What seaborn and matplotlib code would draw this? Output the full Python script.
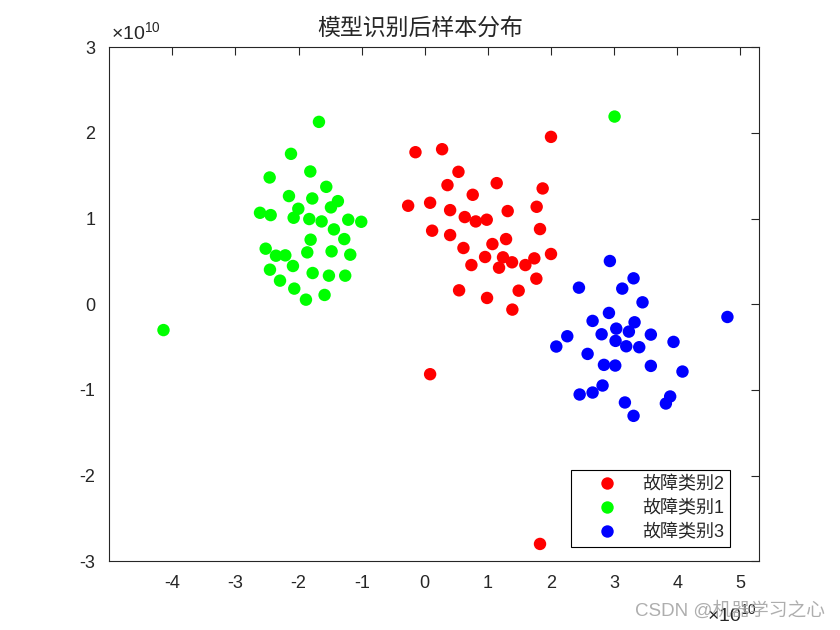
import matplotlib
matplotlib.use("Agg")
import matplotlib.pyplot as plt
import seaborn as sns
import pandas as pd

# ---- data (units of 1e10) ----
red_x = [1.999, -0.148, 0.274, 0.533, 0.359, 1.139, 0.759, 1.867, -0.264, 0.084,
         0.401, 1.772, 1.313, 0.633, 0.807, 0.981, 0.116, 0.401, 1.825, 0.612,
         1.071, 1.287, 0.955, 1.239, 1.382, 1.593, 1.735, 1.999, 0.738, 1.176,
         1.767, 0.543, 0.986, 1.487, 1.387, 0.084, 1.825]
red_y = [1.954, 1.775, 1.810, 1.546, 1.391, 1.414, 1.278, 1.352, 1.150, 1.185,
         1.099, 1.138, 1.088, 1.018, 0.967, 0.987, 0.859, 0.808, 0.878, 0.657,
         0.703, 0.761, 0.552, 0.548, 0.490, 0.458, 0.536, 0.587, 0.458, 0.427,
         0.299, 0.163, 0.074, 0.159, -0.062, -0.816, -2.797]

green_x = [-1.677, -2.120, -1.814, -2.458, -1.561, -2.152, -1.783, -1.377, -2.004, -1.487,
           -2.611, -2.442, -2.078, -1.830, -1.635, -1.213, -1.007, -1.440, -1.809, -1.276,
           -2.521, -2.358, -2.210, -1.862, -1.477, -1.181, -2.453, -2.089, -1.777, -1.519,
           -1.261, -2.294, -2.068, -1.883, -1.588, -4.140, 3.006]
green_y = [2.129, 1.756, 1.550, 1.480, 1.371, 1.263, 1.235, 1.204, 1.115, 1.131,
           1.068, 1.041, 1.010, 0.995, 0.967, 0.987, 0.963, 0.874, 0.754, 0.761,
           0.649, 0.567, 0.571, 0.606, 0.618, 0.579, 0.404, 0.447, 0.365, 0.334,
           0.334, 0.276, 0.183, 0.054, 0.109, -0.301, 2.191]

blue_x = [2.932, 2.442, 3.128, 3.307, 3.449, 2.917, 2.658, 3.323, 3.033, 3.233,
          2.801, 3.581, 2.257, 2.083, 3.022, 3.191, 3.397, 3.940, 2.579, 2.838,
          3.017, 3.581, 4.082, 2.816, 2.453, 2.658, 3.170, 3.307, 3.819, 3.887,
          4.794]
blue_y = [0.505, 0.194, 0.183, 0.303, 0.023, -0.101, -0.194, -0.210, -0.284, -0.319,
          -0.350, -0.354, -0.373, -0.493, -0.427, -0.490, -0.501, -0.439, -0.579, -0.707,
          -0.715, -0.719, -0.785, -0.948, -1.053, -1.030, -1.146, -1.302, -1.158, -1.076,
          -0.148]

labels = ["故障类别2", "故障类别1", "故障类别3"]
colors = ["#ff0000", "#00ff00", "#0000ff"]
x_ticks = [-4, -3, -2, -1, 0, 1, 2, 3, 4, 5]
y_ticks = [-3, -2, -1, 0, 1, 2, 3]

df = pd.concat([
    pd.DataFrame({"x": red_x, "y": red_y, "类别": labels[0]}),
    pd.DataFrame({"x": green_x, "y": green_y, "类别": labels[1]}),
    pd.DataFrame({"x": blue_x, "y": blue_y, "类别": labels[2]}),
], ignore_index=True)

sns.set_style("white")
plt.rcParams["font.family"] = ["Liberation Sans", "Noto Sans CJK SC", "DejaVu Sans"]
plt.rcParams["mathtext.fontset"] = "custom"
plt.rcParams["mathtext.rm"] = "Liberation Sans"
plt.rcParams["mathtext.it"] = "Liberation Sans"

fig = plt.figure(figsize=(8.4, 6.3), dpi=100)
ax = fig.add_axes([0.13, 0.109, 0.774, 0.816])

sns.scatterplot(data=df, x="x", y="y", hue="类别", hue_order=labels,
                palette=colors, s=80, linewidth=0, ax=ax)

ax.set_xlim(-5, 5.3)
ax.set_ylim(-3, 3)
ax.set_xticks(x_ticks)
ax.set_yticks(y_ticks)
ax.set_xticklabels([str(t) for t in x_ticks])
ax.set_yticklabels([str(t) for t in y_ticks])
ax.set_xlabel("")
ax.set_ylabel("")

dark = "#262626"
for sp in ax.spines.values():
    sp.set_visible(True)
    sp.set_color(dark)
    sp.set_linewidth(0.8)
ax.tick_params(direction="in", length=6, width=0.8, color=dark,
               top=True, right=True, labelsize=13, labelcolor=dark, pad=10)

# title (slightly left of axes centre as in the reference)
fig.text(420 / 840, 1 - 28 / 630, "模型识别后样本分布", ha="center", va="center",
         fontsize=16.5, color=dark, family=["Noto Sans CJK SC", "DejaVu Sans"])

# exponent labels
ax.text(0.003, 1.008, r"$\times10^{10}$", transform=ax.transAxes, ha="left", va="bottom",
        fontsize=14, color=dark)
fig.text(757 / 840, 1 - 625 / 630, r"$\times10^{10}$", ha="right", va="bottom",
         fontsize=14, color=dark)

leg = ax.legend(loc="lower right", bbox_to_anchor=(0.955, 0.0286), fontsize=13,
                frameon=True, fancybox=False, edgecolor="black", borderaxespad=0,
                handlelength=3.4, handletextpad=0.25, labelspacing=0.36,
                borderpad=0.32, markerscale=1.0)
leg.get_frame().set_linewidth(0.8)
leg.get_frame().set_alpha(1)
for t in leg.get_texts():
    t.set_color(dark)

# watermark
fig.text(0.982, 0.016, "CSDN @机器学习之心", ha="right", va="bottom", fontsize=13.5,
         color="#a0a0a0", alpha=0.85)

fig.savefig("out.png", dpi=100)
